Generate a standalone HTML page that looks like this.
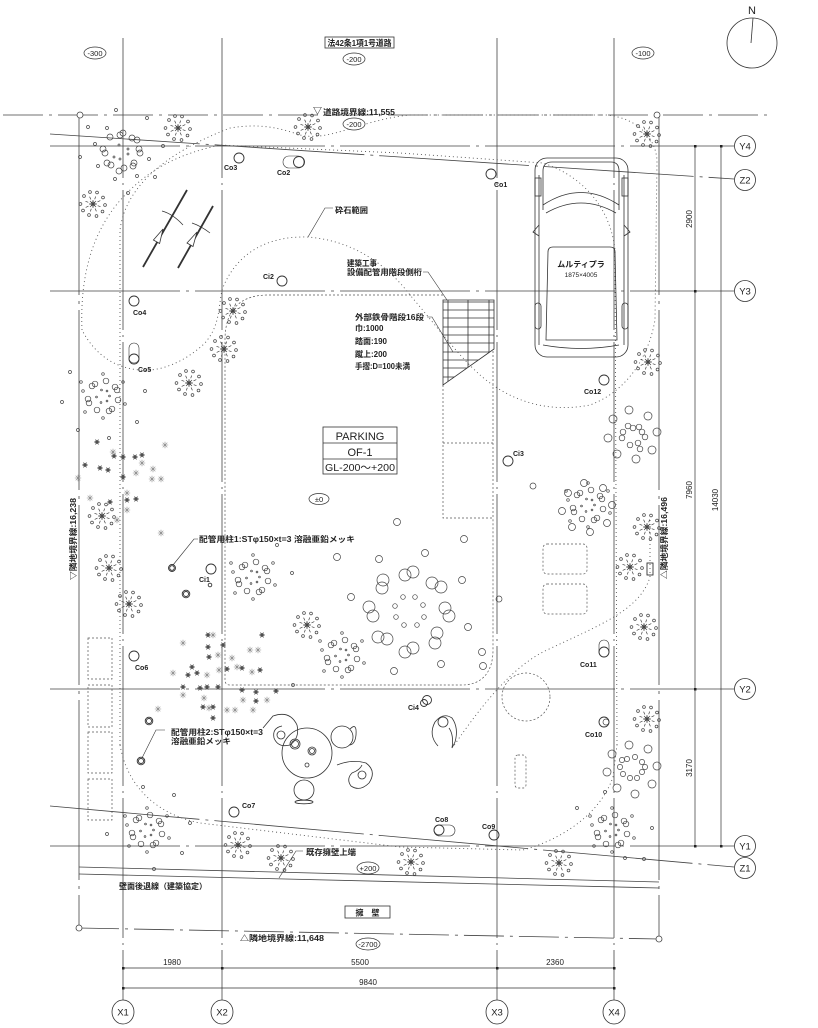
<!DOCTYPE html>
<html><head><meta charset="utf-8"><style>
html,body{margin:0;padding:0;background:#fff;}
svg{display:block;}
text{font-family:"Liberation Sans","Noto Sans CJK JP",sans-serif;fill:#222;}
.b{font-weight:bold;}
</style></head><body>
<svg width="818" height="1028" viewBox="0 0 818 1028" xmlns="http://www.w3.org/2000/svg">
<defs>
<g id="sb" fill="none" stroke="#444" stroke-width=".7">
<circle r="2"/>
<path d="M-4,0H4M0,-4V4M-3,-3L3,3M-3,3L3,-3"/>
<path d="M4.7,1.7L7.5,2.7M2.1,4.5L3.4,7.3M-1.7,4.7L-2.7,7.5M-4.5,2.1L-7.3,3.4M-4.7,-1.7L-7.5,-2.7M-2.1,-4.5L-3.4,-7.3M1.7,-4.7L2.7,-7.5M4.5,-2.1L7.3,-3.4"/>
<circle cx="12" cy="1" r="1.4"/><circle cx="9.5" cy="7.5" r="1.4"/><circle cx="3.5" cy="12" r="1.4"/><circle cx="-4" cy="11" r="1.4"/><circle cx="-10" cy="6.5" r="1.4"/><circle cx="-12.5" cy="0" r="1.4"/><circle cx="-9" cy="-8" r="1.4"/><circle cx="-3" cy="-12" r="1.4"/><circle cx="4" cy="-11.5" r="1.4"/><circle cx="10" cy="-6.5" r="1.4"/>
</g>
<g id="dk"><circle r="1.7" fill="#333"/><path d="M-3,0H3M-1.5,-2.6L1.5,2.6M-1.5,2.6L1.5,-2.6" stroke="#555" stroke-width=".7"/></g>
<g id="la"><path d="M-3.2,0H3.2M0,-3.2V3.2M-2.3,-2.3L2.3,2.3M-2.3,2.3L2.3,-2.3" stroke="#888" stroke-width=".6"/></g>
<g id="cc" fill="none" stroke="#444" stroke-width=".7">
<circle cx="-1.5" cy="-6" r=".9"/><circle cx="4" cy="-5" r=".9"/><circle cx="6.5" cy="0" r=".9"/><circle cx="4" cy="5" r=".9"/><circle cx="-2" cy="6.5" r=".9"/><circle cx="-6.5" cy="1" r=".9"/>
<circle cx="-11" cy="-10" r="2.8"/><circle cx="-8" cy="-12" r="2.8"/><circle cx="3" cy="-15" r="2.8"/><circle cx="12" cy="-9" r="2.8"/><circle cx="14" cy="-6" r="2.8"/><circle cx="15" cy="4" r="2.8"/><circle cx="9" cy="13" r="2.8"/><circle cx="6" cy="15" r="2.8"/><circle cx="-6" cy="14" r="2.8"/><circle cx="-14" cy="7" r="2.8"/><circle cx="-15" cy="3" r="2.8"/>
<circle cx="-20" cy="-5" r="1.3"/><circle cx="0" cy="-22" r="1.3"/><circle cx="20" cy="-14" r="1.3"/><circle cx="22" cy="8" r="1.3"/><circle cx="0" cy="22" r="1.3"/><circle cx="-18" cy="16" r="1.3"/><circle cx="-22" cy="-14" r="1.3"/>
</g>
</defs>

<!-- grid lines -->
<g fill="none" stroke="#444" stroke-width=".8">
<path d="M123,38V1000M222,38V1000M497,38V1000M614,38V1000" stroke-dasharray="140 5 2 5"/>
<path d="M50,146H734M50,291H734M50,689H734M50,846H734" stroke-dasharray="130 6 3 6"/>
<path d="M3,115H770" stroke-dasharray="40 6 3 6"/>
<path d="M50,134L734,179M50,806L734,867" stroke-dasharray="150 6 3 6"/>
<path d="M79,115V928" stroke-dasharray="180 6 3 6"/>
<path d="M659,115V939" stroke-dasharray="180 6 3 6"/>
<path d="M79,928L659,939" stroke-dasharray="40 6 3 6"/>
<path d="M79,867L659,882M79,874L659,888"/>
</g>
<g fill="#fff" stroke="#444" stroke-width=".8">
<circle cx="80" cy="115" r="3"/><circle cx="657" cy="115" r="3"/><circle cx="79" cy="928" r="3"/><circle cx="659" cy="939" r="3"/>
</g>

<!-- dotted gravel / offsets -->
<g fill="none" stroke="#555" stroke-width=".9" stroke-dasharray="1 3">
<path d="M82,330C80,280 90,230 127,193C150,170 175,155 220,145L400,153L543,163C580,175 610,205 615,250L617,745"/>
<path d="M120,745L120,230C125,190 160,155 230,128C260,123 280,128 300,135C330,142 360,120 410,115L607,115C635,118 655,135 657,160L655,320C648,360 625,392 590,405C555,412 520,405 490,383C465,365 440,330 410,295C385,262 350,240 307,237C265,236 235,255 222,290C218,310 220,325 205,343C185,362 160,372 140,370C115,368 95,355 82,330"/>
<path d="M120,745C128,790 160,815 200,823L400,847L523,850C560,840 600,815 613,777L617,745"/>
<path d="M650,520L650,577C640,610 600,625 547,650C515,665 485,700 453,747"/>
</g>
<g fill="none" stroke="#555" stroke-width=".7" stroke-dasharray="2 2">
<path d="M443,295L268,295C240,295 225,310 225,340L225,680Q225,685 230,685L462,685C482,685 493,672 493,650L493,518"/>
<path d="M443,385V518H493V349M443,443H493"/>
<circle cx="526" cy="697" r="24"/>
<rect x="515" y="755" width="11" height="33" rx="3"/>
<rect x="543" y="544" width="44" height="30" rx="4"/>
<rect x="543" y="584" width="44" height="30" rx="4"/>
<rect x="88" y="638" width="24" height="41"/><rect x="88" y="685" width="24" height="42"/><rect x="88" y="732" width="24" height="41"/><rect x="88" y="779" width="24" height="41"/>
</g>

<!-- stair -->
<clipPath id="st"><path d="M443,300H494V349L443,385Z"/></clipPath>
<g fill="none" stroke="#333" stroke-width=".8">
<path d="M443,300H494V349L443,385Z"/>
<g clip-path="url(#st)"><path d="M448,300V390M468,300V390M489,300V390M443,302H494M443,310H494M443,318H494M443,327H494M443,335H494M443,343H494M443,352H494M443,360H494M443,368H494M443,377H494"/></g>
</g>

<!-- car -->
<g fill="none" stroke="#333" stroke-width=".8">
<rect x="535" y="158" width="93" height="199" rx="12"/>
<path d="M543,210V171Q543,162 552,162H611Q619,162 619,171V210"/>
<path d="M543,205Q581,180 619,205M546,213Q581,193 616,213"/>
<path d="M539,175V345M624,175V345"/>
<path d="M548,252Q548,247 553,247H610Q615,247 615,252L617,340H546Z"/>
<path d="M539,225L533,232L539,236M624,225L630,232L624,236"/>
<path d="M543,345Q581,352 619,345"/>
<rect x="535" y="178" width="6" height="18"/><rect x="622" y="178" width="6" height="18"/>
<rect x="535" y="303" width="6" height="26" rx="3"/><rect x="622" y="303" width="6" height="26" rx="3"/>
</g>
<text x="581" y="267" font-size="8" text-anchor="middle" class="b">ムルティプラ</text>
<text x="581" y="277" font-size="6.5" text-anchor="middle">1875×4005</text>

<!-- north -->
<g fill="none" stroke="#333" stroke-width=".8"><circle cx="752" cy="43" r="25"/><path d="M753,18L751,43"/></g>
<text x="752" y="14" font-size="11" text-anchor="middle">N</text>

<!-- top-left arrows -->
<g fill="none" stroke="#333">
<path d="M143,267L187,190M178,268L213,206" stroke-width="1.8"/>
<path d="M162,211Q173,214 183,225M192,223Q201,226 210,233" stroke-width=".7"/>
<path d="M163,229L159.6,243.5L153.4,240Z M197,232L193,246.5L187,243Z" fill="#fff" stroke-width=".8"/>
</g>

<!-- starbursts -->
<use href="#sb" x="178" y="128"/><use href="#sb" x="308" y="127"/><use href="#sb" x="93" y="204"/><use href="#sb" x="233" y="311"/><use href="#sb" x="224" y="349"/><use href="#sb" x="189" y="383"/><use href="#sb" x="102" y="516"/><use href="#sb" x="109" y="568"/><use href="#sb" x="129" y="604"/><use href="#sb" x="307" y="625"/><use href="#sb" x="647" y="134"/><use href="#sb" x="648" y="362"/><use href="#sb" x="647" y="527"/><use href="#sb" x="630" y="567"/><use href="#sb" x="644" y="627"/><use href="#sb" x="647" y="719"/><use href="#sb" x="238" y="845"/><use href="#sb" x="281" y="858"/><use href="#sb" x="411" y="862"/><use href="#sb" x="559" y="863"/>

<!-- circle clusters -->
<use href="#cc" x="103" y="396"/><use href="#cc" x="253" y="577"/><use href="#cc" x="342" y="655"/><use href="#cc" x="588" y="505"/><use href="#cc" x="147" y="830"/><use href="#cc" x="612" y="830"/>
<g fill="none" stroke="#444" stroke-width=".7">
<circle cx="110" cy="137" r="3"/><circle cx="120" cy="135" r="3"/><circle cx="123" cy="133" r="3"/><circle cx="132" cy="138" r="3"/><circle cx="137" cy="140" r="3"/><circle cx="103" cy="149" r="3"/><circle cx="105" cy="153" r="3"/><circle cx="139" cy="149" r="3"/><circle cx="140" cy="153" r="3"/><circle cx="134" cy="163" r="3"/><circle cx="133" cy="166" r="3"/><circle cx="107" cy="163" r="3"/><circle cx="111" cy="165" r="3"/><circle cx="119" cy="171" r="3"/><circle cx="124" cy="168" r="3"/>
<circle cx="88" cy="127" r="1.5"/><circle cx="107" cy="128" r="1.5"/><circle cx="116" cy="110" r="1.5"/><circle cx="147" cy="118" r="1.5"/><circle cx="98" cy="166" r="1.5"/><circle cx="115" cy="179" r="1.5"/><circle cx="128" cy="193" r="1.5"/><circle cx="155" cy="177" r="1.5"/><circle cx="163" cy="146" r="1.5"/><circle cx="95" cy="144" r="1.5"/><circle cx="119" cy="145" r="1"/><circle cx="128" cy="149" r="1"/><circle cx="114" cy="157" r="1"/><circle cx="128" cy="154" r="1"/><circle cx="120" cy="159" r="1"/><circle cx="149" cy="159" r="1.5"/><circle cx="137" cy="176" r="1.5"/><circle cx="80" cy="157" r="1.5"/>
<circle cx="629" cy="410" r="4"/><circle cx="648" cy="416" r="4"/><circle cx="613" cy="419" r="4"/><circle cx="608" cy="438" r="4"/><circle cx="657" cy="432" r="4"/><circle cx="617" cy="454" r="4"/><circle cx="652" cy="450" r="4"/><circle cx="636" cy="459" r="4"/>
<circle cx="623" cy="432" r="2.8"/><circle cx="628" cy="426" r="2.8"/><circle cx="633" cy="428" r="2.8"/><circle cx="639" cy="427" r="2.8"/><circle cx="642" cy="432" r="2.8"/><circle cx="645" cy="437" r="2.8"/><circle cx="622" cy="438" r="2.8"/><circle cx="630" cy="445" r="2.8"/><circle cx="638" cy="443" r="2.8"/><circle cx="640" cy="449" r="2.8"/>
<circle cx="629" cy="745" r="4"/><circle cx="648" cy="749" r="4"/><circle cx="612" cy="754" r="4"/><circle cx="657" cy="766" r="4"/><circle cx="607" cy="772" r="4"/><circle cx="617" cy="788" r="4"/><circle cx="652" cy="784" r="4"/><circle cx="635" cy="794" r="4"/>
<circle cx="622" cy="760" r="2.6"/><circle cx="627" cy="759" r="2.6"/><circle cx="635" cy="757" r="2.6"/><circle cx="642" cy="762" r="2.6"/><circle cx="645" cy="767" r="2.6"/><circle cx="642" cy="772" r="2.6"/><circle cx="637" cy="778" r="2.6"/><circle cx="630" cy="778" r="2.6"/><circle cx="623" cy="774" r="2.6"/><circle cx="620" cy="767" r="2.6"/>
<circle cx="584" cy="483" r="3.5"/><circle cx="603" cy="488" r="3.5"/><circle cx="568" cy="493" r="3.5"/><circle cx="612" cy="505" r="3.5"/><circle cx="562" cy="511" r="3.5"/><circle cx="607" cy="523" r="3.5"/><circle cx="572" cy="527" r="3.5"/><circle cx="590" cy="532" r="3.5"/>
<circle cx="383" cy="580" r="6"/><circle cx="382" cy="588" r="6"/><circle cx="405" cy="575" r="6"/><circle cx="413" cy="572" r="6"/><circle cx="432" cy="583" r="6"/><circle cx="441" cy="587" r="6"/><circle cx="369" cy="607" r="6"/><circle cx="373" cy="616" r="6"/><circle cx="445" cy="608" r="6"/><circle cx="449" cy="616" r="6"/><circle cx="378" cy="637" r="6"/><circle cx="387" cy="639" r="6"/><circle cx="437" cy="633" r="6"/><circle cx="435" cy="643" r="6"/><circle cx="405" cy="652" r="6"/><circle cx="413" cy="648" r="6"/>
<circle cx="403" cy="597" r="2.3"/><circle cx="415" cy="597" r="2.3"/><circle cx="423" cy="605" r="2.3"/><circle cx="424" cy="617" r="2.3"/><circle cx="417" cy="625" r="2.3"/><circle cx="404" cy="625" r="2.3"/><circle cx="396" cy="617" r="2.3"/><circle cx="395" cy="606" r="2.3"/>
<circle cx="337" cy="557" r="3.5"/><circle cx="379" cy="559" r="3.5"/><circle cx="425" cy="553" r="3.5"/><circle cx="464" cy="539" r="3.5"/><circle cx="397" cy="522" r="3.5"/><circle cx="351" cy="597" r="3.5"/><circle cx="394" cy="671" r="3.5"/><circle cx="441" cy="664" r="3.5"/><circle cx="483" cy="666" r="3.5"/><circle cx="468" cy="627" r="3.5"/><circle cx="462" cy="580" r="3.5"/><circle cx="499" cy="599" r="3"/><circle cx="533" cy="486" r="3"/><circle cx="292" cy="573" r="1.5"/><circle cx="277" cy="545" r="1.5"/><circle cx="293" cy="685" r="1.5"/>
<circle cx="606" cy="722" r="3"/><circle cx="482" cy="652" r="3.5"/><circle cx="577" cy="808" r="1.5"/><circle cx="605" cy="792" r="1.5"/><circle cx="652" cy="828" r="1.5"/><circle cx="644" cy="859" r="1.5"/><circle cx="625" cy="858" r="1.5"/>
<circle cx="70" cy="372" r="1.5"/><circle cx="62" cy="402" r="1.5"/><circle cx="78" cy="430" r="1.5"/><circle cx="109" cy="438" r="1.5"/><circle cx="145" cy="391" r="1.5"/><circle cx="137" cy="422" r="1.5"/>
<circle cx="143" cy="787" r="1.5"/><circle cx="174" cy="795" r="1.5"/><circle cx="190" cy="823" r="1.5"/><circle cx="182" cy="853" r="1.5"/><circle cx="107" cy="834" r="1.5"/><circle cx="154" cy="869" r="1.5"/>
</g>

<!-- dark & light asterisks -->
<use href="#dk" x="97" y="442"/><use href="#dk" x="114" y="456"/><use href="#dk" x="123" y="457"/><use href="#dk" x="135" y="457"/><use href="#dk" x="142" y="455"/><use href="#dk" x="85" y="465"/><use href="#dk" x="100" y="468"/><use href="#dk" x="108" y="470"/><use href="#dk" x="123" y="477"/><use href="#dk" x="127" y="500"/><use href="#dk" x="136" y="499"/><use href="#dk" x="110" y="502"/>
<use href="#la" x="165" y="445"/><use href="#la" x="113" y="452"/><use href="#la" x="142" y="463"/><use href="#la" x="153" y="469"/><use href="#la" x="136" y="473"/><use href="#la" x="152" y="479"/><use href="#la" x="161" y="479"/><use href="#la" x="78" y="478"/><use href="#la" x="127" y="493"/><use href="#la" x="90" y="498"/><use href="#la" x="127" y="510"/><use href="#la" x="117" y="520"/><use href="#la" x="161" y="533"/>
<use href="#dk" x="208" y="635"/><use href="#dk" x="262" y="635"/><use href="#dk" x="223" y="645"/><use href="#dk" x="208" y="647"/><use href="#dk" x="209" y="657"/><use href="#dk" x="192" y="667"/><use href="#dk" x="188" y="675"/><use href="#dk" x="197" y="673"/><use href="#dk" x="227" y="669"/><use href="#dk" x="242" y="668"/><use href="#dk" x="260" y="670"/><use href="#dk" x="183" y="687"/><use href="#dk" x="200" y="688"/><use href="#dk" x="207" y="687"/><use href="#dk" x="218" y="687"/><use href="#dk" x="242" y="690"/><use href="#dk" x="256" y="692"/><use href="#dk" x="276" y="691"/><use href="#dk" x="256" y="701"/><use href="#dk" x="213" y="707"/><use href="#dk" x="213" y="718"/><use href="#dk" x="203" y="707"/>
<use href="#la" x="213" y="635"/><use href="#la" x="183" y="643"/><use href="#la" x="250" y="650"/><use href="#la" x="258" y="650"/><use href="#la" x="218" y="655"/><use href="#la" x="173" y="673"/><use href="#la" x="207" y="675"/><use href="#la" x="219" y="670"/><use href="#la" x="232" y="658"/><use href="#la" x="252" y="672"/><use href="#la" x="237" y="667"/><use href="#la" x="183" y="695"/><use href="#la" x="204" y="698"/><use href="#la" x="243" y="700"/><use href="#la" x="267" y="700"/><use href="#la" x="227" y="710"/><use href="#la" x="235" y="710"/><use href="#la" x="253" y="710"/><use href="#la" x="158" y="709"/><use href="#la" x="209" y="708"/>

<!-- sculptures -->
<g fill="none" stroke="#333" stroke-width=".8">
<circle cx="307" cy="753" r="25"/>
<circle cx="304" cy="790" r="10"/>
<ellipse cx="304" cy="802" rx="9" ry="1.8"/>
<circle cx="342" cy="737" r="11"/>
<path d="M350,729Q357,722 356,735Q355,745 349,745"/>
<path d="M337,765Q352,759 366,763Q377,771 369,783Q360,792 351,786Q346,779 352,773Q360,770 362,765"/>
<circle cx="362" cy="775" r="4"/>
<path d="M263,728L273,716Q290,710 297,725Q300,738 290,745Q278,748 274,738Q272,728 282,726"/>
<circle cx="281" cy="735" r="4"/>
<circle cx="295" cy="744" r="5"/><circle cx="295" cy="744" r="3.5"/>
<circle cx="312" cy="751" r="4"/><circle cx="312" cy="751" r="2.5"/>
<circle cx="307" cy="765" r="2"/>
<path d="M438,746Q428,735 435,722Q443,712 452,718Q459,728 455,742L452,748Q454,735 449,728"/>
<circle cx="443" cy="722" r="5"/>
</g>

<!-- point circles -->
<g fill="none" stroke="#333" stroke-width=".9">
<circle cx="239" cy="158" r="5"/>
<rect x="283" y="156" width="21" height="12" rx="6" stroke-width=".6"/><circle cx="299" cy="162" r="5.5"/>
<circle cx="491" cy="174" r="5"/>
<circle cx="282" cy="281" r="5"/>
<circle cx="134" cy="301" r="5"/>
<rect x="129" y="343" width="10" height="20" rx="5" stroke-width=".6"/><circle cx="134" cy="359" r="5"/>
<circle cx="604" cy="380" r="5"/>
<circle cx="508" cy="461" r="5"/>
<circle cx="172" cy="568" r="3.5"/><circle cx="172" cy="568" r="2.3"/>
<circle cx="211" cy="569" r="5"/><circle cx="210" cy="585" r="1.8"/>
<circle cx="186" cy="594" r="3.8"/><circle cx="186" cy="594" r="2.5"/>
<circle cx="134" cy="656" r="5"/>
<circle cx="149" cy="721" r="3.8"/><circle cx="149" cy="721" r="2.5"/>
<circle cx="141" cy="761" r="3.8"/><circle cx="141" cy="761" r="2.5"/>
<rect x="599" y="640" width="10" height="17" rx="5" stroke-width=".6"/><circle cx="604" cy="652" r="5"/>
<circle cx="604" cy="722" r="5"/>
<circle cx="427" cy="700" r="4.5"/><circle cx="424" cy="703" r="3.5"/>
<circle cx="234" cy="812" r="5"/>
<rect x="434" y="825" width="21" height="11" rx="5.5" stroke-width=".6"/><circle cx="439" cy="830" r="5"/>
<circle cx="494" cy="835" r="5"/>
<rect x="647" y="563" width="6" height="12"/>
</g>

<!-- leaders -->
<g fill="none" stroke="#333" stroke-width=".6">
<path d="M333,208H325L308,237"/>
<path d="M423,272H428L447,300"/>
<path d="M427,317H432L453,352"/>
<path d="M198,539H194L173,565"/>
<path d="M165,730H156L142,758"/>
<path d="M303,851H296L279,878"/>
</g>

<!-- dimensions -->
<g fill="none" stroke="#333" stroke-width=".7">
<path d="M695,146V846M721,146V846M123,968H614M123,988H614"/>
</g>
<g fill="#222">
<rect x="694" y="145" width="2.5" height="2.5"/><rect x="694" y="290" width="2.5" height="2.5"/><rect x="694" y="688" width="2.5" height="2.5"/><rect x="694" y="845" width="2.5" height="2.5"/>
<rect x="720" y="145" width="2.5" height="2.5"/><rect x="720" y="845" width="2.5" height="2.5"/>
<rect x="122" y="967" width="2.5" height="2.5"/><rect x="221" y="967" width="2.5" height="2.5"/><rect x="496" y="967" width="2.5" height="2.5"/><rect x="613" y="967" width="2.5" height="2.5"/>
<rect x="122" y="987" width="2.5" height="2.5"/><rect x="613" y="987" width="2.5" height="2.5"/>
</g>
<g font-size="8" text-anchor="middle">
<text transform="translate(692,219) rotate(-90)">2900</text>
<text transform="translate(692,490) rotate(-90)">7960</text>
<text transform="translate(692,768) rotate(-90)">3170</text>
<text transform="translate(718,500) rotate(-90)">14030</text>
<text x="172" y="965">1980</text>
<text x="360" y="965">5500</text>
<text x="555" y="965">2360</text>
<text x="368" y="985">9840</text>
</g>

<!-- bubbles -->
<g fill="#fff" stroke="#333" stroke-width=".8">
<circle cx="745" cy="146" r="10.5"/><circle cx="745" cy="180" r="10.5"/><circle cx="745" cy="291" r="10.5"/><circle cx="745" cy="689" r="10.5"/><circle cx="745" cy="846" r="10.5"/><circle cx="745" cy="868" r="10.5"/>
<ellipse cx="123" cy="1012" rx="11" ry="12"/><ellipse cx="222" cy="1012" rx="11" ry="12"/><ellipse cx="497" cy="1012" rx="11" ry="12"/><ellipse cx="614" cy="1012" rx="11" ry="12"/>
</g>
<g font-size="9.5" text-anchor="middle">
<text x="745" y="149.5">Y4</text><text x="745" y="183.5">Z2</text><text x="745" y="294.5">Y3</text><text x="745" y="692.5">Y2</text><text x="745" y="849.5">Y1</text><text x="745" y="871.5">Z1</text>
<text x="123" y="1015.5">X1</text><text x="222" y="1015.5">X2</text><text x="497" y="1015.5">X3</text><text x="614" y="1015.5">X4</text>
</g>

<!-- level ellipses -->
<g fill="#fff" stroke="#333" stroke-width=".7">
<ellipse cx="95" cy="53" rx="11" ry="6"/><ellipse cx="354" cy="59" rx="11" ry="6"/><ellipse cx="643" cy="53" rx="11" ry="6"/><ellipse cx="354" cy="124" rx="11" ry="6"/><ellipse cx="319" cy="499" rx="10" ry="5.5"/><ellipse cx="368" cy="868" rx="11" ry="6"/><ellipse cx="368" cy="944" rx="12" ry="6"/>
</g>
<g font-size="7.5" text-anchor="middle">
<text x="95" y="56">-300</text><text x="354" y="62">-200</text><text x="643" y="56">-100</text><text x="354" y="127">-200</text><text x="319" y="502">±0</text><text x="368" y="871">+200</text><text x="368" y="947">-2700</text>
</g>

<!-- boxes -->
<g fill="none" stroke="#333" stroke-width=".8">
<rect x="325" y="37" width="69" height="11"/>
<rect x="323" y="427" width="74" height="47"/>
<path d="M323,443H397M323,459H397"/>
<rect x="345" y="906" width="45" height="12"/>
</g>
<text x="359.5" y="46" font-size="8.5" text-anchor="middle" class="b" textLength="64" lengthAdjust="spacingAndGlyphs">法42条1項1号道路</text>
<text x="360" y="440" font-size="11" text-anchor="middle">PARKING</text>
<text x="360" y="456" font-size="11" text-anchor="middle">OF-1</text>
<text x="360" y="471" font-size="10.5" text-anchor="middle" textLength="70" lengthAdjust="spacingAndGlyphs">GL-200～+200</text>
<text x="367.5" y="915.5" font-size="8" text-anchor="middle" class="b">擁　壁</text>

<!-- labels -->
<g font-size="7" class="b">
<text x="224" y="170">Co3</text>
<text x="277" y="175">Co2</text>
<text x="494" y="187">Co1</text>
<text x="263" y="279">Ci2</text>
<text x="133" y="315">Co4</text>
<text x="138" y="372">Co5</text>
<text x="584" y="394">Co12</text>
<text x="513" y="456">Ci3</text>
<text x="199" y="582">Ci1</text>
<text x="135" y="670">Co6</text>
<text x="408" y="710">Ci4</text>
<text x="580" y="667">Co11</text>
<text x="585" y="737">Co10</text>
<text x="242" y="808">Co7</text>
<text x="435" y="822">Co8</text>
<text x="482" y="829">Co9</text>
</g>
<g font-size="8" class="b">
<text x="313" y="114" font-size="9">▽</text>
<text x="323" y="115" textLength="72" lengthAdjust="spacingAndGlyphs">道路境界線:11,555</text>
<text x="335" y="213" textLength="33" lengthAdjust="spacingAndGlyphs">砕石範囲</text>
<text x="347" y="266" textLength="30" lengthAdjust="spacingAndGlyphs">建築工事</text>
<text x="347" y="275" textLength="75" lengthAdjust="spacingAndGlyphs">設備配管用階段側桁</text>
<text x="355" y="320" textLength="69" lengthAdjust="spacingAndGlyphs">外部鉄骨階段16段</text>
<text x="355" y="331">巾:1000</text>
<text x="355" y="344">踏面:190</text>
<text x="355" y="357">蹴上:200</text>
<text x="355" y="369" textLength="55" lengthAdjust="spacingAndGlyphs">手摺:D=100未満</text>
<text x="199" y="542" textLength="156" lengthAdjust="spacingAndGlyphs">配管用柱1:STφ150×t=3 溶融亜鉛メッキ</text>
<text x="171" y="735" textLength="92" lengthAdjust="spacingAndGlyphs">配管用柱2:STφ150×t=3</text>
<text x="171" y="744" textLength="60" lengthAdjust="spacingAndGlyphs">溶融亜鉛メッキ</text>
<text x="306" y="855" textLength="50" lengthAdjust="spacingAndGlyphs">既存擁壁上端</text>
<text x="119" y="889" textLength="88" lengthAdjust="spacingAndGlyphs">壁面後退線（建築協定）</text>
<text x="240" y="941" textLength="84" lengthAdjust="spacingAndGlyphs">△隣地境界線:11,648</text>
<text transform="translate(76,539) rotate(-90)" text-anchor="middle" textLength="82" lengthAdjust="spacingAndGlyphs">▽隣地境界線:16,238</text>
<text transform="translate(667,538) rotate(-90)" text-anchor="middle" textLength="82" lengthAdjust="spacingAndGlyphs">△隣地境界線:16,496</text>
</g>
</svg>
</body></html>
